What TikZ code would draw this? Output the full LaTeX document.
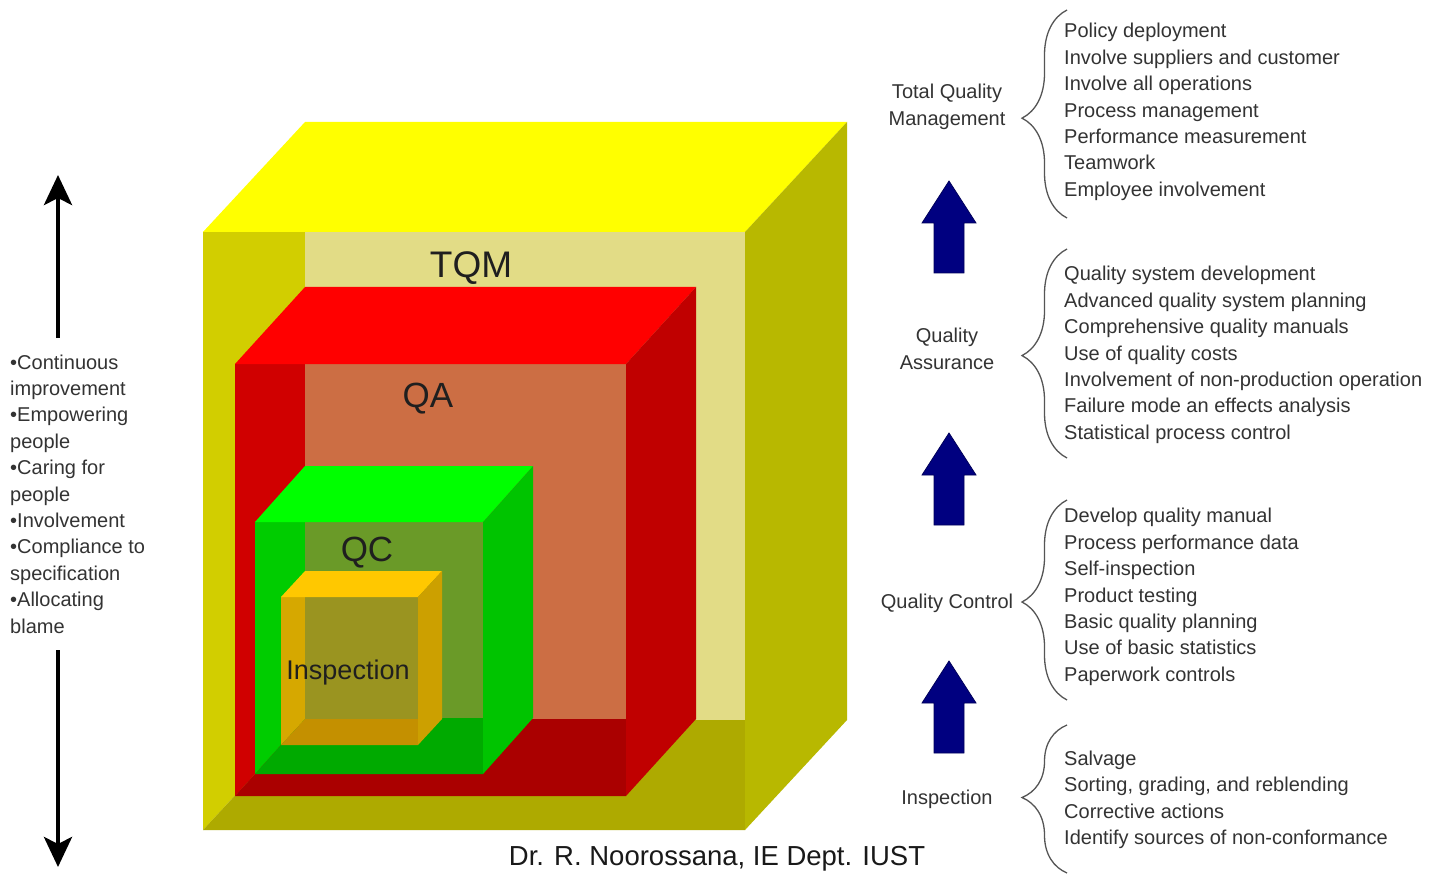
\documentclass[tikz,border=0pt]{standalone}
\usepackage{fontspec}
\setmainfont{Liberation Sans}
\usetikzlibrary{arrows.meta,decorations.pathreplacing}
% yellow (TQM)
\definecolor{YTop}{HTML}{FFFF00}
\definecolor{YLeft}{HTML}{D2CE00}
\definecolor{YRight}{HTML}{B8B800}
\definecolor{YFloor}{HTML}{AEAA00}
\definecolor{YBack}{HTML}{E2DC86}
% red (QA)
\definecolor{RTop}{HTML}{FF0000}
\definecolor{RLeft}{HTML}{D00000}
\definecolor{RRight}{HTML}{C00000}
\definecolor{RFloor}{HTML}{AA0000}
\definecolor{RBack}{HTML}{CC6E44}
% green (QC)
\definecolor{GTop}{HTML}{00FF00}
\definecolor{GLeft}{HTML}{00CC00}
\definecolor{GRight}{HTML}{00C400}
\definecolor{GFloor}{HTML}{00AA00}
\definecolor{GBack}{HTML}{6A9A28}
% orange (Inspection)
\definecolor{OTop}{HTML}{FFC800}
\definecolor{OLeft}{HTML}{D6A800}
\definecolor{ORight}{HTML}{CCA000}
\definecolor{OFloor}{HTML}{C49000}
\definecolor{OBack}{HTML}{9A9420}
\definecolor{navyarrow}{HTML}{000080}
\definecolor{txtgray}{HTML}{333333}
\definecolor{bracegray}{HTML}{555555}

% open cube: #1 x front-left, #2 y front-top, #3 x front-right, #4 y front-bottom, #5 dx, #6 dy, #7 colour prefix
\newcommand{\opencube}[7]{%
  \fill[#7Left] (#1,#2) -- (#1+#5,#2) -- (#1+#5,#4-#6) -- (#1,#4) -- cycle;
  \fill[#7Floor] (#1,#4) -- (#1+#5,#4-#6) -- (#3,#4-#6) -- (#3,#4) -- cycle;
  \fill[#7Back] (#1+#5,#2) rectangle (#3,#4-#6);
  \fill[#7Top] (#1,#2) -- (#1+#5,#2-#6) -- (#3+#5,#2-#6) -- (#3,#2) -- cycle;
  \fill[#7Right] (#3,#2) -- (#3+#5,#2-#6) -- (#3+#5,#4-#6) -- (#3,#4) -- cycle;
}
% blue up arrow: #1 centre x, #2 tip y
\newcommand{\bluearrow}[2]{%
  \filldraw[navyarrow, draw=navyarrow!70!black, line width=0.8pt]
    (#1,#2) -- (#1+27,#2+42) -- (#1+15,#2+42) -- (#1+15,#2+92)
    -- (#1-15,#2+92) -- (#1-15,#2+42) -- (#1-27,#2+42) -- cycle;
}

\tikzset{
  cubelabel/.style={text=black!88, inner sep=0pt},
  stage/.style={text=txtgray, align=center, inner sep=0pt,
    font=\fontsize{20}{26.4}\selectfont},
  items/.style={text=txtgray, align=left, inner sep=0pt, anchor=west,
    font=\fontsize{20}{26.4}\selectfont},
  bracket/.style={draw=bracegray, line width=1.3pt, decorate},
  bigarrow/.style={line width=4.5pt, -{Stealth[length=30pt,width=28pt,inset=7pt]}},
}

\begin{document}
\begin{tikzpicture}[x=1pt,y=-1pt]
\useasboundingbox (0,0) rectangle (1439,874);
\fill[white] (0,0) rectangle (1439,874);

% nested cubes
\opencube{203}{232}{745}{830}{102}{110}{Y}
\opencube{235}{364}{626}{796}{70}{77}{R}
\opencube{255}{522}{483}{774}{50}{56}{G}
\opencube{281}{597}{418}{745}{24}{26}{O}

\node[cubelabel, font=\fontsize{37}{40}\selectfont] (tqm) at (471,268) {TQM};
\node[cubelabel, font=\fontsize{35}{38}\selectfont] (qa) at (428,399) {QA};
\node[cubelabel, font=\fontsize{35}{38}\selectfont] (qc) at (367,553) {QC};
\node[cubelabel, font=\fontsize{27}{30}\selectfont] (insp) at (348,673) {Inspection};

% left column
\node[items] (left) at (10,494) {•Continuous\\improvement\\•Empowering\\people\\•Caring for\\people\\•Involvement\\•Compliance to\\specification\\•Allocating\\blame};
\coordinate (lu1) at (58,338);
\coordinate (lu2) at (58,175);
\coordinate (ld1) at (58,650);
\coordinate (ld2) at (58,867);
\draw[bigarrow] (lu1) -- (lu2);
\draw[bigarrow] (ld1) -- (ld2);

% right column: stages
\node[stage] (sTQM) at (947,107) {Total Quality\\Management};
\node[stage] (sQA) at (947,349) {Quality\\Assurance};
\node[stage] (sQC) at (947,603) {Quality Control};
\node[stage] (sIN) at (947,799) {Inspection};

\bluearrow{949}{181}
\bluearrow{949}{433}
\bluearrow{949}{661}

% braces
\coordinate (bTb) at (1067,218); \coordinate (bTt) at (1067,10);
\coordinate (bAb) at (1067,458); \coordinate (bAt) at (1067,249);
\coordinate (bCb) at (1067,700); \coordinate (bCt) at (1067,500);
\coordinate (bIb) at (1067,873); \coordinate (bIt) at (1067,725);
\draw[bracket, decoration={brace, amplitude=45pt, aspect=0.48}] (bTb) -- (bTt);
\draw[bracket, decoration={brace, amplitude=45pt, aspect=0.49}] (bAb) -- (bAt);
\draw[bracket, decoration={brace, amplitude=45pt, aspect=0.49}] (bCb) -- (bCt);
\draw[bracket, decoration={brace, amplitude=45pt, aspect=0.51}] (bIb) -- (bIt);

% item lists
\node[items] (iTQM) at (1064,112) {Policy deployment\\Involve suppliers and customer\\Involve all operations\\Process management\\Performance measurement\\Teamwork\\Employee involvement};
\node[items] (iQA) at (1064,355) {Quality system development\\Advanced quality system planning\\Comprehensive quality manuals\\Use of quality costs\\Involvement of non-production operation\\Failure mode an effects analysis\\Statistical process control};
\node[items] (iQC) at (1064,597) {Develop quality manual\\Process performance data\\Self-inspection\\Product testing\\Basic quality planning\\Use of basic statistics\\Paperwork controls};
\node[items] (iIN) at (1064,800) {Salvage\\Sorting, grading, and reblending\\Corrective actions\\Identify sources of non-conformance};

% credit
\node[text=black!90, inner sep=0pt, font=\fontsize{27.5}{30}\selectfont] (credit) at (717,859) {Dr. R. Noorossana, IE Dept. IUST};
\end{tikzpicture}
\end{document}
